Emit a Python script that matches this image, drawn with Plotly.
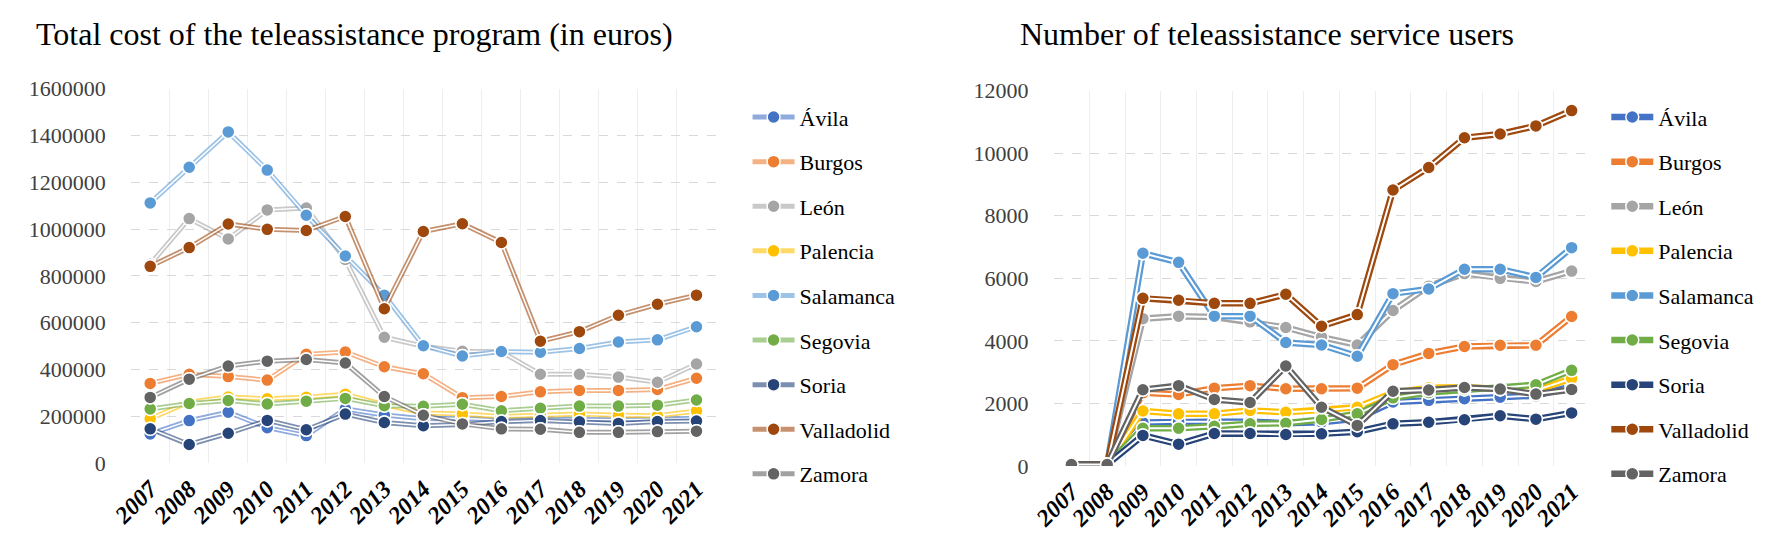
import plotly.graph_objects as go

W, H = 1772, 534

years = list(range(2007, 2022))
provinces = ["Ávila", "Burgos", "León", "Palencia", "Salamanca",
             "Segovia", "Soria", "Valladolid", "Zamora"]
colors = ["#4472C4", "#ED7D31", "#A5A5A5", "#FFC000", "#5B9BD5",
          "#70AD47", "#264478", "#9E480E", "#636363"]

# total cost of the program (euros), 2007-2021
cost_avila = [125000, 182000, 218000, 152000, 118000, 232000, 206000, 190000,
              192000, 184000, 188000, 186000, 186000, 188000, 192000]
cost_burgos = [341000, 380000, 370000, 355000, 465000, 475000, 412000, 382000,
               280000, 285000, 305000, 311000, 311000, 315000, 363000]
cost_leon = [850000, 1045000, 958000, 1082000, 1090000, 870000, 538000, 500000,
             478000, 476000, 380000, 380000, 368000, 346000, 424000]
cost_palencia = [190000, 262000, 283000, 275000, 282000, 295000, 250000, 215000,
                 210000, 200000, 205000, 210000, 205000, 203000, 223000]
cost_salamanca = [1112000, 1264000, 1415000, 1252000, 1059000, 885000, 718000, 502000,
                  458000, 477000, 474000, 490000, 518000, 527000, 583000]
cost_segovia = [232000, 255000, 268000, 253000, 265000, 277000, 246000, 243000,
                252000, 224000, 235000, 244000, 244000, 248000, 270000]
cost_soria = [147000, 80000, 128000, 183000, 143000, 210000, 174000, 160000,
              165000, 178000, 182000, 177000, 170000, 178000, 180000]
cost_valladolid = [841000, 921000, 1022000, 999000, 994000, 1054000, 660000, 990000,
                   1023000, 943000, 521000, 562000, 632000, 679000, 718000]
cost_zamora = [281000, 359000, 415000, 436000, 443000, 428000, 285000, 205000,
               168000, 147000, 145000, 132000, 132000, 135000, 137000]

# number of service users, 2007-2021
users_avila = [50, 50, 1390, 1420, 1420, 1420, 1370, 1400, 1520, 2050, 2100, 2150, 2200, 2250, 2550]
users_burgos = [50, 50, 2340, 2290, 2490, 2570, 2470, 2470, 2490, 3240, 3600, 3820, 3860, 3860, 4780]
users_leon = [50, 50, 4710, 4790, 4760, 4610, 4430, 4120, 3870, 4970, 5750, 6150, 6000, 5900, 6230]
users_palencia = [50, 50, 1760, 1670, 1670, 1780, 1720, 1780, 1880, 2350, 2500, 2520, 2450, 2420, 2800]
users_salamanca = [50, 50, 6800, 6510, 4790, 4790, 3950, 3870, 3510, 5510, 5660, 6290, 6290, 6030, 6980]
users_segovia = [50, 50, 1210, 1210, 1270, 1350, 1370, 1490, 1670, 2180, 2350, 2450, 2500, 2600, 3060]
users_soria = [50, 50, 980, 700, 1040, 1040, 1010, 1030, 1100, 1350, 1400, 1480, 1610, 1500, 1700]
users_valladolid = [50, 50, 5360, 5300, 5200, 5200, 5490, 4470, 4840, 8820, 9540, 10490, 10610, 10870, 11360]
users_zamora = [50, 50, 2440, 2570, 2130, 2030, 3200, 1880, 1300, 2390, 2430, 2510, 2460, 2300, 2450]

cost = [cost_avila, cost_burgos, cost_leon, cost_palencia, cost_salamanca,
        cost_segovia, cost_soria, cost_valladolid, cost_zamora]
users = [users_avila, users_burgos, users_leon, users_palencia, users_salamanca,
         users_segovia, users_soria, users_valladolid, users_zamora]

FONT = "Liberation Serif"


def rgba(hex_color, a):
    h = hex_color.lstrip("#")
    r, g, b = int(h[0:2], 16), int(h[2:4], 16), int(h[4:6], 16)
    return "rgba({},{},{},{})".format(r, g, b, a)


fig = go.Figure()


def add_series(series, xa, ya, legend, line_alpha, lw, core):
    for name, col, vals in zip(provinces, colors, series):
        # outer coloured line (carries the legend entry)
        fig.add_trace(go.Scatter(
            x=years, y=vals, xaxis=xa, yaxis=ya, name=name,
            mode="lines+markers", legend=legend, legendgroup=legend + name,
            line=dict(color=rgba(col, line_alpha), width=lw),
            marker=dict(color=col, size=13, line=dict(color="white", width=1.5)),
            hoverinfo="skip"))
        # white core -> Excel "double" line look
        fig.add_trace(go.Scatter(
            x=years, y=vals, xaxis=xa, yaxis=ya, mode="lines", showlegend=False,
            line=dict(color="white", width=core), hoverinfo="skip"))
        fig.add_trace(go.Scatter(
            x=years, y=vals, xaxis=xa, yaxis=ya, mode="markers", showlegend=False,
            marker=dict(color=col, size=13, line=dict(color="white", width=1.5)),
            hoverinfo="skip"))


add_series(cost, "x", "y", "legend", 0.6, 5, 1.5)
add_series(users, "x2", "y2", "legend2", 1.0, 6.5, 2)

xcommon = dict(
    range=[2006.5, 2021.5], tickmode="array", tickvals=years,
    ticktext=[str(y) for y in years], tickangle=-45, showgrid=False,
    zeroline=False, showline=False, ticks="", ticklabelstandoff=6,
    tickfont=dict(family=FONT, size=24, color="black", weight="bold", style="italic"),
    minor=dict(tick0=2006.5, dtick=1, showgrid=True, gridcolor="#EEEEEE", gridwidth=1),
)
ycommon = dict(
    showline=False, zeroline=False, ticks="", gridcolor="#D9D9D9",
    griddash="dash", gridwidth=1, tickformat="d", ticklabelstandoff=24,
    tickfont=dict(family=FONT, size=22, color="#404040"),
)
legcommon = dict(
    xanchor="left", yanchor="top", tracegroupgap=13, bgcolor="rgba(0,0,0,0)",
    itemwidth=42, font=dict(family=FONT, size=22, color="black"),
)

fig.update_layout(
    width=W, height=H, paper_bgcolor="white", plot_bgcolor="white",
    margin=dict(l=0, r=0, t=0, b=0),
    xaxis=dict(domain=[101 / W, 694 / W], anchor="y", **xcommon),
    yaxis=dict(domain=[1 - 465 / H, 1 - 72 / H], range=[0, 1600000],
               dtick=200000, anchor="x", **ycommon),
    xaxis2=dict(domain=[1036 / W, 1579 / W], anchor="y2", **xcommon),
    yaxis2=dict(domain=[1 - 468 / H, 1 - 74 / H], range=[0, 12000],
                dtick=2000, anchor="x2", **ycommon),
    legend=dict(x=726 / W, y=1 - 80 / H, **legcommon),
    legend2=dict(x=1596 / W, y=1 - 80 / H, **legcommon),
    annotations=[
        dict(text="Total cost of the teleassistance program (in euros)",
             x=3 / W, y=1 - 15 / H, xref="paper", yref="paper",
             xanchor="left", yanchor="middle", showarrow=False,
             font=dict(family=FONT, size=32, color="black")),
        dict(text="Number of teleassistance service users",
             x=1000 / W, y=1 - 15 / H, xref="paper", yref="paper",
             xanchor="left", yanchor="middle", showarrow=False,
             font=dict(family=FONT, size=32, color="black")),
    ],
)

fig.write_html("out.html")
